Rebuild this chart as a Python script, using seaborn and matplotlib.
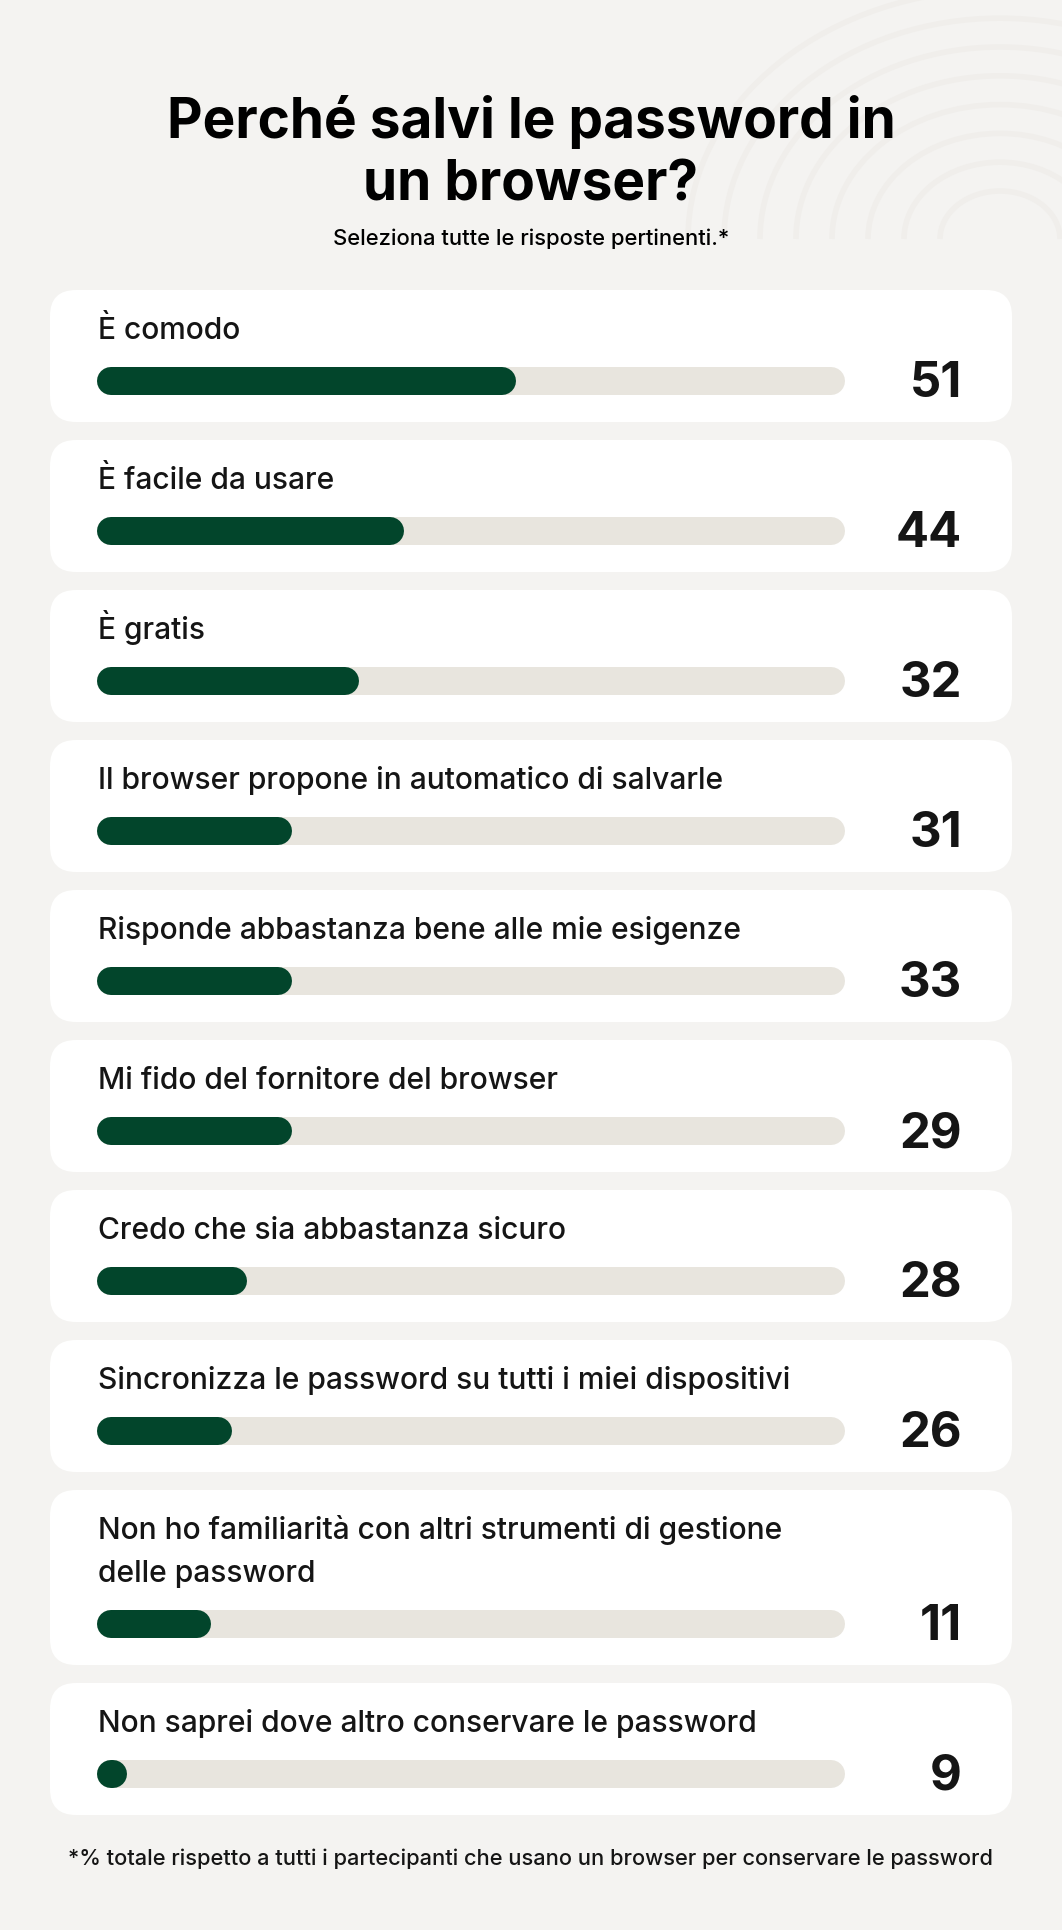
import matplotlib
matplotlib.use("Agg")
import matplotlib.pyplot as plt
from matplotlib.patches import FancyBboxPatch, Arc
import seaborn as sns

# dati
labels = [
    "È comodo",
    "È facile da usare",
    "È gratis",
    "Il browser propone in automatico di salvarle",
    "Risponde abbastanza bene alle mie esigenze",
    "Mi fido del fornitore del browser",
    "Credo che sia abbastanza sicuro",
    "Sincronizza le password su tutti i miei dispositivi",
    "Non ho familiarità con altri strumenti di gestione\ndelle password",
    "Non saprei dove altro conservare le password",
]
values = [51, 44, 32, 31, 33, 29, 28, 26, 11, 9]
# lunghezza della barra verde (scala 0-100 della traccia)
bar_len = [54.3, 38.7, 32.5, 23.2, 23.2, 23.2, 17.0, 14.8, 11.9, 0.3]

title = ["Perché salvi le password in", "un browser?"]
subtitle = "Seleziona tutte le risposte pertinenti.*"
footnote = "*% totale rispetto a tutti i partecipanti che usano un browser per conservare le password"

BG = "#F4F3F1"
CARD = "#FFFFFF"
TRACK = "#E8E5DE"
GREEN = "#02452B"
INK = "#151515"

sns.set_theme(style="white")
plt.rcParams["font.family"] = ["Inter", "DejaVu Sans"]

W, H = 1062, 1931
PT = 0.72  # px -> pt a 100 dpi
fig = plt.figure(figsize=(W / 100, H / 100), dpi=100)
fig.patch.set_facecolor(BG)
bg = fig.add_axes([0, 0, 1, 1])
bg.set_xlim(0, W)
bg.set_ylim(H, 0)
bg.axis("off")

# decorazione leggera in alto a destra (impronta)
for r in range(60, 330, 36):
    bg.add_patch(Arc((1000, 240), 2 * r, 1.6 * r, theta1=180, theta2=360,
                     color="#F0EEEB", lw=4, zorder=0))

bg.text(531, 138, title[0], ha="center", va="baseline", fontsize=55 * PT,
        fontweight="bold", color="black")
bg.text(531, 200, title[1], ha="center", va="baseline", fontsize=55 * PT,
        fontweight="bold", color="black")
bg.text(531, 245, subtitle, ha="center", va="baseline", fontsize=22 * PT,
        fontweight="medium", color="black")

# rettangoli
top = 291
line_h = 43
track_x0, track_w, track_h = 97, 748, 28
r = 1400 / (track_w - track_h)  # raggio del cappuccio in unità dati
for lab, val, blen in zip(labels, values, bar_len):
    lines = lab.split("\n")
    extra = (len(lines) - 1) * line_h
    h = 132 + extra
    bg.add_patch(FancyBboxPatch((50, top), 962, h,
                                boxstyle="round,pad=0,rounding_size=26",
                                fc=CARD, ec="none", zorder=1))
    for i, ln in enumerate(lines):
        bg.text(98, top + 48 + i * line_h, ln, ha="left", va="baseline",
                fontsize=30 * PT, fontweight="medium", color=INK, zorder=3)
    bg.text(962, top + 106 + extra, str(val), ha="right", va="baseline",
            fontsize=49 * PT, fontweight="bold", color=INK, zorder=3)

    yc = top + 91 + extra
    ax = fig.add_axes([track_x0 / W, 1 - (yc + track_h) / H,
                       track_w / W, 2 * track_h / H])
    ax.set_xlim(-r, 100 + r)
    ax.set_ylim(-1, 1)
    ax.axis("off")
    ax.patch.set_alpha(0)
    lw = track_h * PT
    ax.plot([0, 100], [0, 0], color=TRACK, lw=lw, solid_capstyle="round")
    ax.plot([0, blen], [0, 0], color=GREEN, lw=lw, solid_capstyle="round")

    top += h + 18

bg.text(531, 1865, footnote, ha="center", va="baseline", fontsize=21.8 * PT,
        fontweight="medium", color=INK)

fig.savefig("out.png", dpi=100, facecolor=BG)
